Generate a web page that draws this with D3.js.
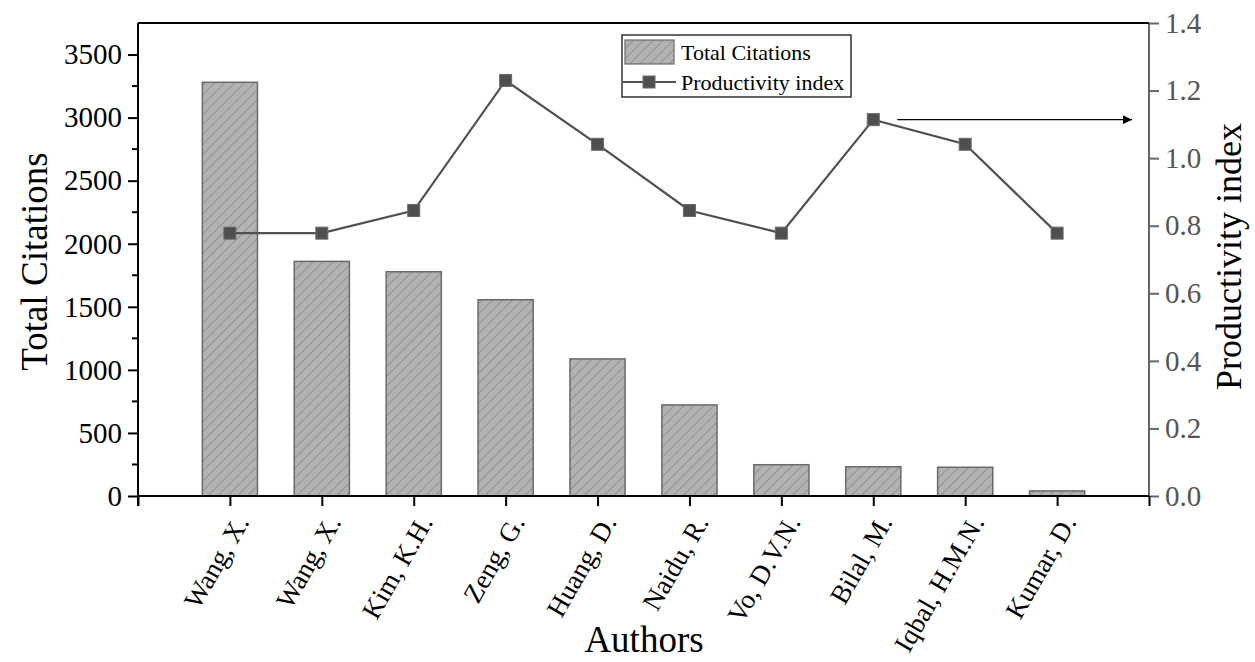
<!DOCTYPE html>
<html>
<head>
<meta charset="utf-8">
<script src="https://cdnjs.cloudflare.com/ajax/libs/d3/7.8.5/d3.min.js"></script>
<style>
  body { margin: 0; background: #fff; }
  svg { display: block; font-family: "Liberation Serif", "Times New Roman", serif; }
</style>
</head>
<body>
<svg id="chart" width="1255" height="662"></svg>
<script>
const authors = ["Wang, X.", "Wang, X.", "Kim, K.H.", "Zeng, G.", "Huang, D.", "Naidu, R.", "Vo, D.V.N.", "Bilal, M.", "Iqbal, H.M.N.", "Kumar, D."];
const totalCitations = [3280, 1860, 1778, 1556, 1087, 722, 248, 232, 228, 40];
const productivityIndex = [0.778, 0.778, 0.845, 1.230, 1.041, 0.845, 0.778, 1.114, 1.041, 0.778];
const leftTicks = [0, 500, 1000, 1500, 2000, 2500, 3000, 3500];
const rightTicks = [0.0, 0.2, 0.4, 0.6, 0.8, 1.0, 1.2, 1.4];

const svg = d3.select("#chart");
const L = 138, R = 1149, T = 23, B = 496;

const x = d3.scaleLinear().domain([0, authors.length + 1]).range([L, R]);
const yL = d3.scaleLinear().domain([0, 3750]).range([B, T]);
const yR = d3.scaleLinear().domain([0, 1.4]).range([B, T]);
const step = x(1) - x(0);
const barW = step * 0.6;

// hatch pattern
const defs = svg.append("defs");
const pat = defs.append("pattern").attr("id", "hatch").attr("patternUnits", "userSpaceOnUse")
  .attr("width", 7).attr("height", 7).attr("patternTransform", "rotate(45)");
pat.append("rect").attr("width", 7).attr("height", 7).attr("fill", "#b2b2b2");
pat.append("line").attr("x1", 0).attr("y1", 0).attr("x2", 0).attr("y2", 7)
  .attr("stroke", "#7a7a7a").attr("stroke-width", 1.2);
defs.append("marker").attr("id", "arrow").attr("viewBox", "0 0 10 10").attr("refX", 10).attr("refY", 5)
  .attr("markerWidth", 14).attr("markerHeight", 9).attr("markerUnits", "userSpaceOnUse").attr("orient", "auto")
  .append("path").attr("d", "M0,0 L10,5 L0,10 Z").attr("fill", "#000");

// bars
svg.append("g").selectAll("rect").data(totalCitations).join("rect")
  .attr("x", (d, i) => x(i + 1) - barW / 2)
  .attr("y", d => yL(d))
  .attr("width", barW)
  .attr("height", d => B - yL(d))
  .attr("fill", "url(#hatch)")
  .attr("stroke", "#6a6a6a").attr("stroke-width", 1.5);

const FONT = "Liberation Serif";

// left axis
const leftAxis = d3.axisLeft(yL).tickValues(leftTicks).tickSize(10).tickPadding(6).tickFormat(d3.format("d"));
const gL = svg.append("g").attr("transform", `translate(${L},0)`).call(leftAxis)
  .attr("font-family", FONT).attr("font-size", 29);
gL.select(".domain").remove();
gL.selectAll(".tick line").attr("stroke", "#000").attr("stroke-width", 2);
gL.selectAll("text").attr("fill", "#000");
const minorL = d3.range(250, 3750, 500);
svg.append("g").selectAll("line").data(minorL).join("line")
  .attr("x1", L - 6).attr("x2", L).attr("y1", d => yL(d)).attr("y2", d => yL(d))
  .attr("stroke", "#000").attr("stroke-width", 2);
svg.append("line").attr("x1", L).attr("x2", L).attr("y1", T).attr("y2", B + 10)
  .attr("stroke", "#000").attr("stroke-width", 2);

// right axis
const rightAxis = d3.axisRight(yR).tickValues(rightTicks).tickSize(10).tickPadding(6).tickFormat(d3.format(".1f"));
const gR = svg.append("g").attr("transform", `translate(${R},0)`).call(rightAxis)
  .attr("font-family", FONT).attr("font-size", 29);
gR.select(".domain").remove();
gR.selectAll(".tick line").attr("stroke", "#666").attr("stroke-width", 2);
gR.selectAll("text").attr("fill", "#555");
svg.append("line").attr("x1", R).attr("x2", R).attr("y1", T).attr("y2", B)
  .attr("stroke", "#666").attr("stroke-width", 2);

// top frame
svg.append("line").attr("x1", L).attr("x2", R).attr("y1", T).attr("y2", T)
  .attr("stroke", "#000").attr("stroke-width", 2);

// bottom axis
const bottomAxis = d3.axisBottom(x).tickValues(d3.range(0, authors.length + 2)).tickSize(10)
  .tickFormat(d => (d >= 1 && d <= authors.length) ? authors[d - 1] : "");
const gB = svg.append("g").attr("transform", `translate(0,${B})`).call(bottomAxis)
  .attr("font-family", FONT).attr("font-size", 27);
gB.select(".domain").remove();
gB.selectAll(".tick line").attr("stroke", "#000").attr("stroke-width", 2);
gB.selectAll("text").attr("fill", "#000")
  .attr("text-anchor", "end").attr("dy", "0.35em")
  .attr("transform", "translate(0,15) rotate(-60)");
svg.append("line").attr("x1", L).attr("x2", R).attr("y1", B).attr("y2", B)
  .attr("stroke", "#000").attr("stroke-width", 2);

// line series
const line = d3.line().x((d, i) => x(i + 1)).y(d => yR(d));
svg.append("path").datum(productivityIndex).attr("d", line)
  .attr("fill", "none").attr("stroke", "#505050").attr("stroke-width", 2.2);
const ms = 12;
svg.append("g").selectAll("rect").data(productivityIndex).join("rect")
  .attr("x", (d, i) => x(i + 1) - ms / 2).attr("y", d => yR(d) - ms / 2)
  .attr("width", ms).attr("height", ms)
  .attr("fill", "#4f4f4f").attr("stroke", "#6a6a6a").attr("stroke-width", 1);

// arrow pointing to right axis
svg.append("line").attr("x1", x(8) + 24).attr("x2", R - 17)
  .attr("y1", yR(productivityIndex[7])).attr("y2", yR(productivityIndex[7]))
  .attr("stroke", "#000").attr("stroke-width", 1.3).attr("marker-end", "url(#arrow)");

// axis titles
svg.append("text").attr("transform", `translate(47,${(T + B) / 2 + 2}) rotate(-90)`)
  .attr("text-anchor", "middle").attr("font-size", 37).attr("fill", "#000").text("Total Citations");
svg.append("text").attr("transform", `translate(1228,${(T + B) / 2 - 3}) rotate(-90)`)
  .attr("text-anchor", "middle").attr("dy", "0.35em").attr("font-size", 36).attr("fill", "#000").text("Productivity index");
svg.append("text").attr("x", 644).attr("y", 652)
  .attr("text-anchor", "middle").attr("font-size", 37).attr("fill", "#000").text("Authors");

// legend
const lg = svg.append("g");
lg.append("rect").attr("x", 622).attr("y", 35).attr("width", 229).attr("height", 62)
  .attr("fill", "#fff").attr("stroke", "#000").attr("stroke-width", 1.2);
lg.append("rect").attr("x", 625).attr("y", 40).attr("width", 49).attr("height", 24)
  .attr("fill", "url(#hatch)").attr("stroke", "#6a6a6a").attr("stroke-width", 1.2);
lg.append("text").attr("x", 681).attr("y", 60).attr("font-size", 22).attr("fill", "#000").text("Total Citations");
lg.append("line").attr("x1", 623).attr("x2", 676).attr("y1", 82).attr("y2", 82)
  .attr("stroke", "#505050").attr("stroke-width", 2);
lg.append("rect").attr("x", 643).attr("y", 76).attr("width", ms).attr("height", ms)
  .attr("fill", "#4f4f4f").attr("stroke", "#6a6a6a");
lg.append("text").attr("x", 681).attr("y", 90).attr("font-size", 22).attr("fill", "#000").text("Productivity index");
</script>
</body>
</html>
